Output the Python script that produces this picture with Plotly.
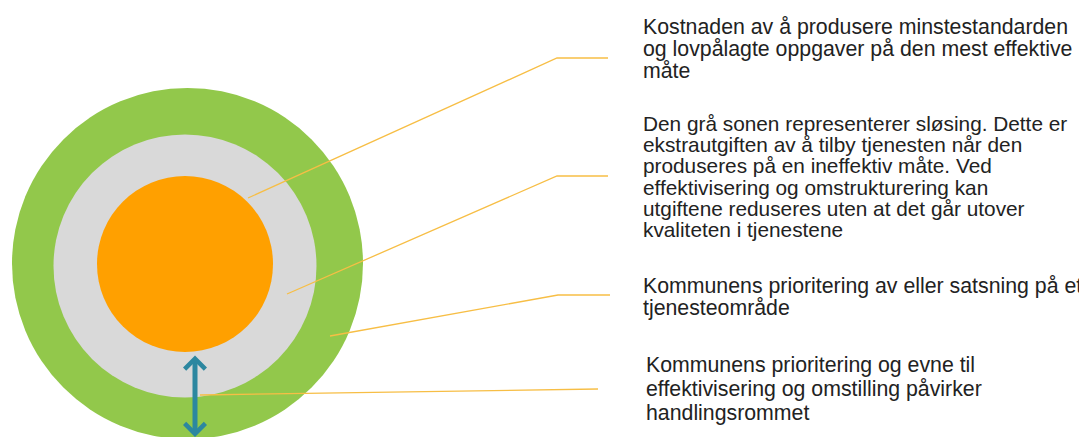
import plotly.graph_objects as go

# ---- content ----
ring_names = ["Handlingsrom", "Sløsing", "Minstestandard"]
ring_radius = [175.5, 131.5, 88]
ring_cx = [187.5, 185, 185]
ring_cy = [263.5, 266, 264]
ring_colors = ["#92C84B", "#D9D9D9", "#FFA000"]

label_lines = [
    ["Kostnaden av å produsere minstestandarden",
     "og lovpålagte oppgaver på den mest effektive",
     "måte"],
    ["Den grå sonen representerer sløsing. Dette er",
     "ekstrautgiften av å tilby tjenesten når den",
     "produseres på en ineffektiv måte. Ved",
     "effektivisering og omstrukturering kan",
     "utgiftene reduseres uten at det går utover",
     "kvaliteten i tjenestene"],
    ["Kommunens prioritering av eller satsning på et",
     "tjenesteområde"],
    ["Kommunens prioritering og evne til",
     "effektivisering og omstilling påvirker",
     "handlingsrommet"],
]
label_x = [641, 641, 641, 644]
label_mid_y = [48.5, 176.75, 297, 389]
label_line_gap = [22.2, 21.2, 22, 24]    # px between lines in each block
label_glyph = [21.3, 20.8, 21.3, 21.3]   # px glyph size in each block

leader_start = [(248, 198), (287, 294), (330, 336), (200, 395)]
leader_knee = [(557, 58), (557, 176), (558, 295), (598, 389)]
leader_end = [(608, 58), (608, 176), (610, 295), (598, 389)]

arrow_x = 195
arrow_top = 354
arrow_bottom = 437

PAGE_MARGIN = 8   # the page body has an 8px margin
W, H = 1087, 437

fig = go.Figure()

shapes = []
for r, cx, cy, c in zip(ring_radius, ring_cx, ring_cy, ring_colors):
    shapes.append(dict(type="circle", xref="x", yref="y",
                       x0=cx - r, x1=cx + r, y0=cy - r, y1=cy + r,
                       fillcolor=c, line=dict(width=0), layer="below"))

for s, k, e in zip(leader_start, leader_knee, leader_end):
    fig.add_trace(go.Scatter(x=[s[0], k[0], e[0]], y=[s[1], k[1], e[1]],
                             mode="lines", line=dict(color="#F7BE45", width=1.3),
                             hoverinfo="skip", showlegend=False))

annotations = []
for lines, lx, my, gap, gs in zip(label_lines, label_x, label_mid_y,
                                  label_line_gap, label_glyph):
    # plotly spaces lines by 1.3em of the base font; glyphs are sized via span
    base = gap / 1.3
    txt = "<br>".join(f'<span style="font-size:{gs}px">{t}</span>' for t in lines)
    annotations.append(dict(x=lx, y=my, xref="x", yref="y", text=txt,
                            showarrow=False, xanchor="left", yanchor="middle",
                            align="left",
                            font=dict(family="Liberation Sans, Arial", size=base,
                                      color="#222222")))

annotations.append(dict(x=arrow_x, y=arrow_bottom, ax=arrow_x, ay=arrow_top,
                        xref="x", yref="y", axref="x", ayref="y", text="",
                        showarrow=True, arrowhead=4, startarrowhead=4,
                        arrowside="end+start", arrowwidth=5, arrowsize=0.8,
                        startarrowsize=0.8, arrowcolor="#2C87A0"))

fig.update_layout(
    width=W - PAGE_MARGIN, height=H - PAGE_MARGIN,
    margin=dict(l=0, r=0, t=0, b=0),
    paper_bgcolor="white", plot_bgcolor="white",
    xaxis=dict(range=[PAGE_MARGIN, W], visible=False, fixedrange=True),
    yaxis=dict(range=[H, PAGE_MARGIN], visible=False, fixedrange=True),
    shapes=shapes, annotations=annotations, showlegend=False,
)

fig.write_html("out.html")
